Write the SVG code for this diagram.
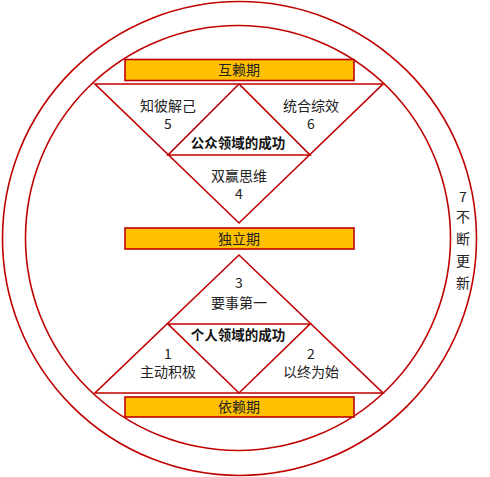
<svg xmlns="http://www.w3.org/2000/svg" width="490" height="477" viewBox="0 0 490 477">
<style>
.ln{fill:none;stroke:#C00000;stroke-width:1.6}
.bar{fill:#FFC000;stroke:#C00000;stroke-width:1.6}
.t{font-family:"Noto Sans CJK SC","Liberation Sans",sans-serif;font-size:14px;fill:#222;text-anchor:middle}
.b{font-weight:bold;font-size:13.5px;fill:#111}
</style>
<rect width="490" height="477" fill="#fff"/>
<g id="connectors">
<circle class="ln" cx="239.5" cy="238.5" r="237"/>
<circle class="ln" cx="238" cy="238" r="212.5"/>
</g>
<g id="top-triangle">
<polygon class="ln" points="95,84 383,84 239,223"/>
<polygon class="ln" points="239,84 168,155 310,155"/>
<text class="t" x="168" y="111">知彼解己</text>
<text class="t" x="168" y="129">5</text>
<text class="t" x="311" y="111">统合综效</text>
<text class="t" x="311" y="129">6</text>
<text class="t b" x="238" y="148">公众领域的成功</text>
<text class="t" x="239" y="181">双赢思维</text>
<text class="t" x="239" y="199">4</text>
</g>
<g id="bottom-triangle">
<polygon class="ln" points="95,393 383,393 239,255"/>
<polygon class="ln" points="168,324 310,324 239,393"/>
<text class="t" x="239" y="288">3</text>
<text class="t" x="239" y="308">要事第一</text>
<text class="t b" x="238" y="340">个人领域的成功</text>
<text class="t" x="168" y="359">1</text>
<text class="t" x="168" y="377">主动积极</text>
<text class="t" x="311" y="359">2</text>
<text class="t" x="311" y="377">以终为始</text>
</g>
<g id="bar-interdependence">
<rect class="bar" x="125" y="59.5" width="229" height="21"/>
<text class="t" x="239" y="75">互赖期</text>
</g>
<g id="bar-independence">
<rect class="bar" x="125" y="228" width="229" height="21"/>
<text class="t" x="239" y="243.5">独立期</text>
</g>
<g id="bar-dependence">
<rect class="bar" x="125" y="397" width="229" height="20"/>
<text class="t" x="239" y="412">依赖期</text>
</g>
<g id="renewal">
<text class="t" x="463" y="202">7</text>
<text class="t" x="463" y="222">不</text>
<text class="t" x="463" y="244">断</text>
<text class="t" x="463" y="266">更</text>
<text class="t" x="463" y="288">新</text>
</g>
</svg>
